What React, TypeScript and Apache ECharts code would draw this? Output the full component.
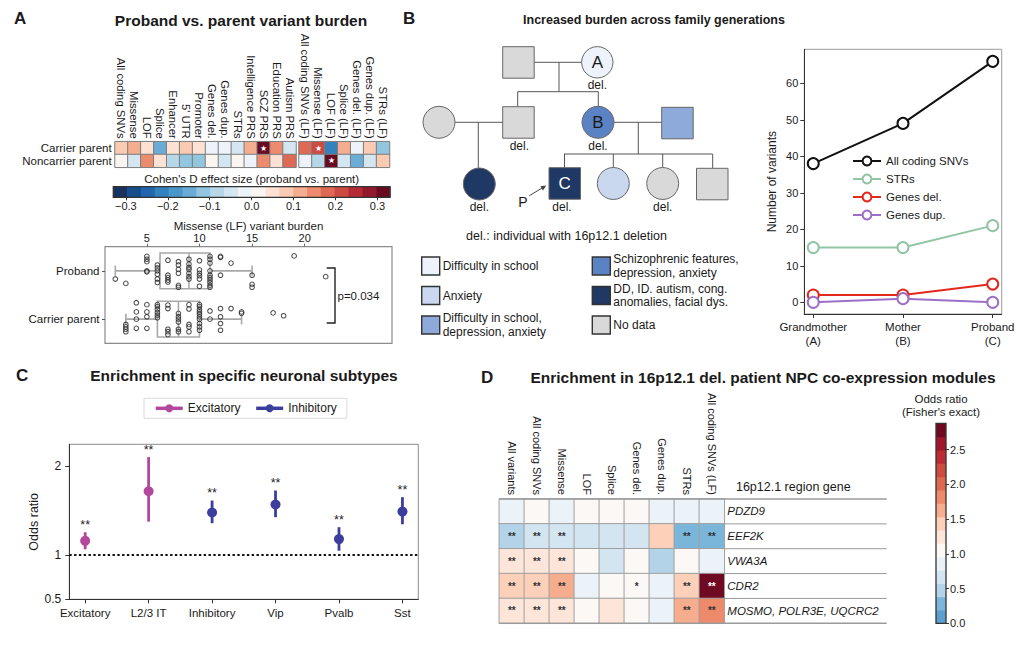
import React, { useEffect, useRef } from 'react';
import * as echarts from 'echarts';

const FONT = '"Liberation Sans", Arial, Helvetica, sans-serif';
const INK = '#1a1a1a';

// ---------------- Panel A: heatmap (Cohen's D) ----------------
const colsA = ['All coding SNVs', 'Missense', 'LOF', 'Splice', 'Enhancer', "5' UTR", 'Promoter', 'Genes del.', 'Genes dup.', 'STRs', 'Intelligence PRS', 'SCZ PRS', 'Education PRS', 'Autism PRS'];
const colsALF = ['All coding SNVs (LF)', 'Missense (LF)', 'LOF (LF)', 'Splice (LF)', 'Genes del. (LF)', 'Genes dup. (LF)', 'STRs (LF)'];
const rowsA = ['Noncarrier parent', 'Carrier parent'];
const carrierA = [0.08, 0.12, 0.05, -0.14, 0.05, 0.08, 0.05, -0.01, -0.02, -0.04, 0.12, 0.32, 0.15, -0.05];
const noncarrierA = [0.01, -0.05, 0.15, 0.05, -0.08, -0.11, -0.1, 0.01, -0.04, 0.02, -0.01, 0.14, 0.05, 0.18];
const carrierALF = [0.18, 0.21, -0.2, 0.12, -0.01, 0.08, -0.1];
const noncarrierALF = [-0.01, -0.07, 0.32, -0.05, -0.14, -0.04, 0.08];
const starsCarrierA = [11];
const starsNoncarrierA: number[] = [];
const starsCarrierALF = [1];
const starsNoncarrierALF = [2];
const cohenTicks = [-0.3, -0.2, -0.1, 0, 0.1, 0.2, 0.3];
const cohenMin = -0.33;
const cohenStep = 0.033;
const cohenColors = ['#17325f', '#174f8c', '#2166ac', '#3581bd', '#4a98c9', '#6aacd5', '#92c5de', '#b6d7e8', '#d4e6f1', '#edf3f8', '#fbf5f1', '#fde2d4', '#fbcab2', '#f5ad8f', '#ec8b6d', '#de6a56', '#cc4a42', '#b52a35', '#921a2c', '#6a0a20'];

// ---------------- Panel A: box plot ----------------
const boxRows = ['Carrier parent', 'Proband'];
const boxTicks = [5, 10, 15, 20];
// [row centre, min, q1, median, q3, max]
const boxStats = [
  [0.5, 3, 6, 8, 10, 14],
  [1.5, 2, 6.25, 9, 11, 15],
];
const probandPoints = [
  [2, 1.33], [3, 1.24],
  [5, 1.8], [5, 1.74], [5, 1.69], [5, 1.5], [5, 1.48],
  [6, 1.62], [6, 1.56], [6, 1.5], [6, 1.43], [6, 1.33], [6, 1.26],
  [7, 1.72], [7, 1.41], [7, 1.36], [7, 1.31], [7, 1.27],
  [8, 1.69], [8, 1.62], [8, 1.53], [8, 1.45], [8, 1.2], [8, 1.16],
  [9, 1.74], [9, 1.64], [9, 1.57], [9, 1.53], [9, 1.45], [9, 1.38], [9, 1.33],
  [10, 1.71], [10, 1.52], [10, 1.45], [10, 1.4], [10, 1.33], [10, 1.18],
  [11, 1.8], [11, 1.74], [11, 1.66], [11, 1.5], [11, 1.41], [11, 1.36], [11, 1.31], [11, 1.26], [11, 1.2], [11, 1.16],
  [12, 1.8], [12, 1.78], [12, 1.41], [13, 1.66],
  [15, 1.41], [15, 1.22], [15, 1.16], [19, 1.81], [22, 1.38],
];
const carrierPoints = [
  [3, 0.39], [3, 0.34], [3, 0.29], [3, 0.24],
  [4, 0.84], [4, 0.65], [4, 0.5], [4, 0.31],
  [5, 0.8], [5, 0.65], [5, 0.55], [5, 0.31],
  [6, 0.8], [6, 0.76], [6, 0.7], [6, 0.64], [6, 0.58], [6, 0.53],
  [7, 0.79], [7, 0.72], [7, 0.29], [7, 0.24], [7, 0.18],
  [8, 0.62], [8, 0.55], [8, 0.5], [8, 0.44], [8, 0.29], [8, 0.24],
  [9, 0.8], [9, 0.71], [9, 0.39], [9, 0.34], [9, 0.24],
  [10, 0.8], [10, 0.76], [10, 0.7], [10, 0.65], [10, 0.6], [10, 0.55], [10, 0.5], [10, 0.41], [10, 0.34], [10, 0.27],
  [11, 0.67], [11, 0.5],
  [12, 0.72], [12, 0.55], [12, 0.41], [12, 0.27],
  [13, 0.72], [14, 0.65], [14, 0.62], [17, 0.63], [18, 0.57],
];

// ---------------- Panel B: variants per generation ----------------
const generations = ['Grandmother\n(A)', 'Mother\n(B)', 'Proband\n(C)'];
const allCodingSNVs = [38, 49, 66];
const strs = [15, 15, 21];
const genesDel = [2, 2, 5];
const genesDup = [0, 1, 0];
const variantTicks = [0, 10, 20, 30, 40, 50, 60];

// ---------------- Panel C: neuronal subtypes ----------------
const subtypes = ['Excitatory', 'L2/3 IT', 'Inhibitory', 'Vip', 'Pvalb', 'Sst'];
const subtypeGroup = ['Excitatory', 'Excitatory', 'Inhibitory', 'Inhibitory', 'Inhibitory', 'Inhibitory'];
const oddsRatio = [1.16, 1.72, 1.48, 1.57, 1.18, 1.49];
const ciLow = [1.065, 1.377, 1.359, 1.427, 1.049, 1.347];
const ciHigh = [1.257, 2.106, 1.615, 1.728, 1.314, 1.653];
const signif = ['**', '**', '**', '**', '**', '**'];
const oddsTicks = [0.5, 1, 2];

// ---------------- Panel D: co-expression modules ----------------
const colsD = ['All variants', 'All coding SNVs', 'Missense', 'LOF', 'Splice', 'Genes del.', 'Genes dup.', 'STRs', 'All coding SNVs (LF)'];
const genesD = ['PDZD9', 'EEF2K', 'VWA3A', 'CDR2', 'MOSMO, POLR3E, UQCRC2'];
const oddsD = [
  [0.9, 1.05, 0.9, 1.1, 1.1, 1.05, 0.9, 0.9, 0.9],
  [0.5, 0.6, 0.6, 0.7, 0.7, 0.7, 1.45, 0.3, 0.3],
  [1.25, 1.25, 1.25, 1.05, 0.6, 1.05, 0.5, 1.05, 0.9],
  [1.45, 1.45, 1.65, 0.9, 1.05, 1.05, 0.9, 1.45, 2.8],
  [1.25, 1.25, 1.25, 1.05, 1.25, 1.05, 0.9, 1.65, 1.85],
];
const starsD = [
  ['', '', '', '', '', '', '', '', ''],
  ['**', '**', '**', '', '', '', '', '**', '**'],
  ['**', '**', '**', '', '', '', '', '', ''],
  ['**', '**', '**', '', '', '*', '', '**', '**'],
  ['**', '**', '**', '', '', '', '', '**', '**'],
];
const oddsDTicks = [0, 0.5, 1, 1.5, 2, 2.5];
const oddsDMax = 2.88;
const oddsDStep = 0.192;
const oddsDColors = ['#5a9fcf', '#7ab6da', '#b3d4e8', '#d3e5f0', '#ebf2f8', '#fbf8f5', '#fde6d9', '#fcd0b9', '#f6ad8e', '#ec8a6b', '#df6851', '#cf4a3f', '#bd2a31', '#a1162b', '#6f0a22'];

// ---------------- Pedigree colours ----------------
const PED = {
  school: '#eef2fa',
  anxiety: '#c9d7ef',
  schoolDep: '#8eaadb',
  schizo: '#5b82c3',
  dd: '#1f3864',
  none: '#d9d9d9',
};
const pedLegend = [
  { label: 'Difficulty in school', color: PED.school, col: 0, row: 0 },
  { label: 'Anxiety', color: PED.anxiety, col: 0, row: 1 },
  { label: 'Difficulty in school,\ndepression, anxiety', color: PED.schoolDep, col: 0, row: 2 },
  { label: 'Schizophrenic features,\ndepression, anxiety', color: PED.schizo, col: 1, row: 0 },
  { label: 'DD, ID. autism, cong.\nanomalies, facial dys.', color: PED.dd, col: 1, row: 1 },
  { label: 'No data', color: PED.none, col: 1, row: 2 },
];

// ---------------- helpers ----------------
const T = (x: number, y: number, text: string, o: any = {}) => ({
  type: 'text',
  x,
  y,
  z: 100,
  silent: true,
  style: {
    text,
    fill: o.fill || INK,
    fontSize: o.size || 12,
    fontFamily: FONT,
    fontWeight: o.weight || 'normal',
    fontStyle: o.italic ? 'italic' : 'normal',
    align: o.align || 'left',
    verticalAlign: o.va || 'middle',
    textAlign: o.align || 'left',
    textVerticalAlign: o.va || 'middle',
    lineHeight: o.lh || undefined,
  },
});
const L = (x1: number, y1: number, x2: number, y2: number, color = '#555', w = 1) => ({
  type: 'line',
  z: 90,
  silent: true,
  shape: { x1, y1, x2, y2 },
  style: { stroke: color, lineWidth: w },
});
const SQ = (x: number, y: number, s: number, fill: string, stroke = '#666', w = 1) => ({
  type: 'rect',
  z: 95,
  silent: true,
  shape: { x, y, width: s, height: s },
  style: { fill, stroke, lineWidth: w },
});
const CI = (cx: number, cy: number, r: number, fill: string) => ({
  type: 'circle',
  z: 95,
  silent: true,
  shape: { cx, cy, r },
  style: { fill, stroke: '#666', lineWidth: 1 },
});

const fmtMinus = (v: number) => v.toFixed(1).replace('-', '\u2212');

function heatAData(carrier: number[], noncarrier: number[], sc: number[], sn: number[]) {
  const out: any[] = [];
  carrier.forEach((v, i) => out.push(sc.includes(i) ? { value: [i, 1, v], label: { show: true } } : [i, 1, v]));
  noncarrier.forEach((v, i) => out.push(sn.includes(i) ? { value: [i, 0, v], label: { show: true } } : [i, 0, v]));
  return out;
}

function buildOption(): any {
  const cohenBins = cohenColors.map((_, i) => [cohenMin + i * cohenStep, cohenMin + (i + 1) * cohenStep, i]);
  const cohenPieces = cohenBins.map((b) => ({ gte: b[0] - 1e-9, lt: b[1] + 1e-9, color: cohenColors[b[2]] }));
  const oddsBins = oddsDColors.map((_, i) => [i * oddsDStep, (i + 1) * oddsDStep, i]);
  const oddsPieces = oddsBins.map((b) => ({ gte: b[0], lt: b[1] + 1e-9, color: oddsDColors[b[2]] }));

  const heatD: any[] = [];
  oddsD.forEach((row, r) =>
    row.forEach((v, c) => {
      const s = starsD[r][c];
      heatD.push(
        s
          ? { value: [c, r, v], label: { show: true, formatter: s, color: v > 2.4 ? '#ffffff' : '#333333' } }
          : [c, r, v]
      );
    })
  );

  const axisText = { color: INK, fontFamily: FONT };

  const rectRender = (xFirst: boolean, colors: string[]) => (params: any, api: any) => {
    const lo = api.value(0);
    const hi = api.value(1);
    const ci = api.value(2);
    let p0, p1;
    if (xFirst) {
      p0 = api.coord([lo, 1]);
      p1 = api.coord([hi, 0]);
    } else {
      p0 = api.coord([0, hi]);
      p1 = api.coord([1, lo]);
    }
    return {
      type: 'rect',
      shape: { x: p0[0], y: p0[1], width: p1[0] - p0[0] + (xFirst ? 0.6 : 0), height: p1[1] - p0[1] + (xFirst ? 0 : 0.6) },
      style: { fill: colors[ci], stroke: null },
    };
  };
  const outlineRender = (params: any, api: any) => {
    const p0 = api.coord([api.value(0), api.value(3)]);
    const p1 = api.coord([api.value(1), api.value(2)]);
    return {
      type: 'rect',
      shape: { x: p0[0], y: p0[1], width: p1[0] - p0[0], height: p1[1] - p0[1] },
      style: { fill: 'none', stroke: '#333', lineWidth: 1.3 },
    };
  };

  const boxRender = (params: any, api: any) => {
    const y = api.value(0);
    const mn = api.value(1);
    const q1 = api.value(2);
    const md = api.value(3);
    const q3 = api.value(4);
    const mx = api.value(5);
    const h = 0.37;
    const cap = 0.11;
    const c = (a: number, b: number) => api.coord([a, b]);
    const st = { stroke: '#a8a8a8', lineWidth: 1.6, fill: 'none' };
    const b0 = c(q1, y + h);
    const b1 = c(q3, y - h);
    const ln = (p: number[], q: number[]) => ({ type: 'line', shape: { x1: p[0], y1: p[1], x2: q[0], y2: q[1] }, style: st });
    return {
      type: 'group',
      children: [
        { type: 'rect', shape: { x: b0[0], y: b0[1], width: b1[0] - b0[0], height: b1[1] - b0[1] }, style: st },
        ln(c(md, y + h), c(md, y - h)),
        ln(c(mn, y), c(q1, y)),
        ln(c(q3, y), c(mx, y)),
        ln(c(mn, y + cap), c(mn, y - cap)),
        ln(c(mx, y + cap), c(mx, y - cap)),
      ],
    };
  };

  const ciRender = (color: string) => (params: any, api: any) => {
    const x = api.value(0);
    const lo = api.value(1);
    const hi = api.value(2);
    const idx = api.value(3);
    const p0 = api.coord([x, lo]);
    const p1 = api.coord([x, hi]);
    return {
      type: 'group',
      children: [
        { type: 'line', shape: { x1: p0[0], y1: p0[1], x2: p1[0], y2: p1[1] }, style: { stroke: color, lineWidth: 2.8 } },
        {
          type: 'text',
          x: p1[0],
          y: p1[1] - 1,
          style: { text: signif[idx], fill: '#222', fontSize: 12.5, fontFamily: FONT, align: 'center', verticalAlign: 'bottom', textAlign: 'center', textVerticalAlign: 'bottom' },
        },
      ],
    };
  };

  const ciData = (group: string) =>
    subtypes.map((_, i) => i).filter((i) => subtypeGroup[i] === group).map((i) => [i, ciLow[i], ciHigh[i], i]);
  const ptData = (group: string) =>
    subtypes.map((_, i) => i).filter((i) => subtypeGroup[i] === group).map((i) => [i, oddsRatio[i]]);

  const lineSeries = (name: string, vals: number[], color: string) => ({
    type: 'line',
    name,
    xAxisIndex: 4,
    yAxisIndex: 5,
    data: vals.map((v, i) => [i, v]),
    symbol: 'emptyCircle',
    symbolSize: 11,
    itemStyle: { color, borderWidth: 1.8 },
    lineStyle: { color, width: 2 },
    z: 5,
  });

  // ---------- graphics ----------
  const g: any[] = [];
  g.push(T(14, 18, 'A', { size: 17, weight: 'bold' }));
  g.push(T(241, 20, 'Proband vs. parent variant burden', { size: 15.5, weight: 'bold', align: 'center' }));
  g.push(T(403, 18, 'B', { size: 17, weight: 'bold' }));
  g.push(T(654, 20, 'Increased burden across family generations', { size: 12.5, weight: 'bold', align: 'center' }));
  g.push(T(16, 375, 'C', { size: 17, weight: 'bold' }));
  g.push(T(244, 375, 'Enrichment in specific neuronal subtypes', { size: 15.5, weight: 'bold', align: 'center' }));
  g.push(T(481, 377, 'D', { size: 17, weight: 'bold' }));
  g.push(T(763, 377, 'Enrichment in 16p12.1 del. patient NPC co-expression modules', { size: 15.5, weight: 'bold', align: 'center' }));

  g.push(T(251.7, 179.3, "Cohen's D effect size (proband vs. parent)", { size: 11.5, align: 'center' }));
  g.push({ type: 'polyline', z: 90, silent: true, shape: { points: [[326.7, 268], [335, 268], [335, 323], [326.7, 323]] }, style: { stroke: '#222', lineWidth: 1.4, fill: 'none' } });
  g.push(T(337.5, 295.5, 'p=0.034', { size: 11.5 }));

  // pedigree
  const S = 31.5;
  g.push(L(534.2, 62.3, 581.6, 62.3));
  g.push(L(559, 62.3, 559, 91.7));
  g.push(L(517.7, 91.7, 598.3, 91.7));
  g.push(L(517.7, 91.7, 517.7, 106.7));
  g.push(L(598.3, 91.7, 598.3, 106.3));
  g.push(L(455, 122.3, 502.7, 122.3));
  g.push(L(478.3, 122.3, 478.3, 168));
  g.push(L(614, 122.3, 661.7, 122.3));
  g.push(L(638.3, 122.3, 638.3, 154));
  g.push(L(564, 154, 712.7, 154));
  g.push(L(564.5, 154, 564.5, 167.7));
  g.push(L(613.3, 154, 613.3, 167.5));
  g.push(L(662.7, 154, 662.7, 167.5));
  g.push(L(712.7, 154, 712.7, 168.3));
  g.push(SQ(502.7, 46.7, S, PED.none));
  g.push(CI(597.3, 62.3, 15.7, PED.school));
  g.push(T(597.3, 62.8, 'A', { size: 17, align: 'center' }));
  g.push(T(597.3, 85, 'del.', { size: 12, align: 'center' }));
  g.push(CI(439, 122.3, 16, PED.none));
  g.push(SQ(502.7, 106.7, S, PED.none));
  g.push(T(519.3, 146, 'del.', { size: 12, align: 'center' }));
  g.push(CI(598, 122.3, 16, PED.schizo));
  g.push(T(598, 122.8, 'B', { size: 17, align: 'center' }));
  g.push(T(598, 146, 'del.', { size: 12, align: 'center' }));
  g.push(SQ(661.7, 107.3, S, PED.schoolDep));
  g.push(CI(479.3, 184, 16, PED.dd));
  g.push(T(479.3, 207, 'del.', { size: 12, align: 'center' }));
  g.push(SQ(549, 167.7, S, PED.dd));
  g.push(T(564.7, 183.7, 'C', { size: 17, align: 'center', fill: '#ffffff' }));
  g.push(T(562, 207, 'del.', { size: 12, align: 'center' }));
  g.push(L(529.3, 195.7, 542.5, 187.8, '#444', 1));
  g.push({ type: 'polygon', z: 95, silent: true, shape: { points: [[546.2, 185.6], [543.0, 190.4], [540.4, 186.2]] }, style: { fill: '#444' } });
  g.push(T(523, 201.5, 'P', { size: 14, align: 'center' }));
  g.push(CI(613.3, 183.5, 16, PED.anxiety));
  g.push(CI(662.7, 183.5, 16, PED.none));
  g.push(T(662.7, 207, 'del.', { size: 12, align: 'center' }));
  g.push(SQ(696.5, 168.3, S, PED.none));
  g.push(T(566.5, 235.7, 'del.: individual with 16p12.1 deletion', { size: 12.5, align: 'center' }));
  pedLegend.forEach((it) => {
    const x = it.col === 0 ? 421.7 : 592.3;
    const y = 257 + it.row * 29.5;
    g.push(SQ(x, y, 18, it.color, '#333', 1.4));
    g.push(T(x + 21, y + 9, it.label, { size: 12, lh: 13.5 }));
  });

  // panel D extras
  g.push(T(793.3, 486.7, '16p12.1 region gene', { size: 12.5, align: 'center' }));
  g.push(T(941, 398.5, 'Odds ratio', { size: 11.5, align: 'center' }));
  g.push(T(941, 411.5, "(Fisher's exact)", { size: 11.5, align: 'center' }));
  const rowH = 124.3 / genesD.length;
  for (let i = 0; i <= genesD.length; i++) {
    const y = 499 + i * rowH;
    g.push(L(i === 0 || i === genesD.length ? 499.3 : 724.3, y, 886.7, y, '#9a9a9a', i === 0 || i === genesD.length ? 1.6 : 1));
  }

  const valAxisLine = { show: true, onZero: false, lineStyle: { color: '#333', width: 1 } };

  return {
    animation: false,
    backgroundColor: '#ffffff',
    textStyle: { fontFamily: FONT, color: INK },
    grid: [
      { left: 115, top: 141.7, width: 181, height: 25.6 },
      { left: 299, top: 141.7, width: 90.5, height: 25.6 },
      { left: 113.3, top: 186.7, width: 276.7, height: 10.6 },
      { left: 105, top: 246.7, width: 287, height: 96.6, show: true, borderColor: '#8c8c8c', borderWidth: 1.2 },
      { left: 804.3, top: 49.3, width: 197.4, height: 264.7, show: true, borderColor: '#9a9a9a', borderWidth: 1 },
      { left: 69.3, top: 444.3, width: 349, height: 155, show: true, borderColor: '#8c8c8c', borderWidth: 1 },
      { left: 499.3, top: 499, width: 225, height: 124.3 },
      { left: 936, top: 423.3, width: 10, height: 200 },
    ],
    xAxis: [
      { gridIndex: 0, type: 'category', data: colsA, position: 'top', axisLine: { show: false }, axisTick: { show: false }, axisLabel: { ...axisText, rotate: 90, fontSize: 11.3, margin: 3, interval: 0 } },
      { gridIndex: 1, type: 'category', data: colsALF, position: 'top', axisLine: { show: false }, axisTick: { show: false }, axisLabel: { ...axisText, rotate: 90, fontSize: 11.3, margin: 3, interval: 0 } },
      {
        gridIndex: 2, type: 'value', min: cohenMin, max: -cohenMin, splitLine: { show: false }, axisLine: { show: false, onZero: false },
        axisTick: { show: true, customValues: cohenTicks, length: 3, lineStyle: { color: '#333' } },
        axisLabel: { ...axisText, customValues: cohenTicks, formatter: (v: number) => fmtMinus(v), fontSize: 11, margin: 3 },
      },
      {
        gridIndex: 3, type: 'value', min: 1.02, max: 28.3, position: 'top', splitLine: { show: false }, axisLine: { show: false, onZero: false },
        axisTick: { show: true, customValues: boxTicks, length: 3, lineStyle: { color: '#666' } },
        axisLabel: { ...axisText, customValues: boxTicks, fontSize: 11, margin: 3 },
        name: 'Missense (LF) variant burden', nameLocation: 'middle', nameGap: 14, nameTextStyle: { ...axisText, fontSize: 11.5 },
      },
      {
        gridIndex: 4, type: 'value', min: -0.1, max: 2.1, splitLine: { show: false },
        axisLine: valAxisLine,
        axisTick: { show: true, customValues: [0, 1, 2], length: 4, lineStyle: { color: '#333' } },
        axisLabel: { ...axisText, customValues: [0, 1, 2], formatter: (v: number) => generations[Math.round(v)], fontSize: 11.5, lineHeight: 14.3, margin: 6 },
      },
      {
        gridIndex: 5, type: 'value', min: -0.25, max: 5.25, splitLine: { show: false },
        axisLine: valAxisLine,
        axisTick: { show: true, customValues: [0, 1, 2, 3, 4, 5], length: 4, lineStyle: { color: '#333' } },
        axisLabel: { ...axisText, customValues: [0, 1, 2, 3, 4, 5], formatter: (v: number) => subtypes[Math.round(v)], fontSize: 11.5, margin: 8 },
      },
      { gridIndex: 6, type: 'category', data: colsD, position: 'top', axisLine: { show: false }, axisTick: { show: false }, axisLabel: { ...axisText, rotate: 90, fontSize: 11, margin: 4, interval: 0 } },
      { gridIndex: 7, type: 'value', min: 0, max: 1, show: false },
    ],
    yAxis: [
      { gridIndex: 0, type: 'category', data: rowsA, axisLine: { show: false }, axisTick: { show: false }, axisLabel: { ...axisText, fontSize: 11.5, margin: 3.3, interval: 0 } },
      { gridIndex: 1, type: 'category', data: rowsA, show: false },
      { gridIndex: 2, type: 'value', min: 0, max: 1, show: false },
      {
        gridIndex: 3, type: 'category', data: boxRows, axisLine: { show: false },
        axisTick: { show: true, alignWithLabel: true, length: 3, lineStyle: { color: '#555' } },
        axisLabel: { ...axisText, fontSize: 11.5, margin: 5.5, interval: 0 },
      },
      { gridIndex: 3, type: 'value', min: 0, max: 2, show: false },
      {
        gridIndex: 4, type: 'value', min: -3.2, max: 69.3, splitLine: { show: false },
        axisLine: valAxisLine,
        axisTick: { show: true, customValues: variantTicks, length: 4, lineStyle: { color: '#333' } },
        axisLabel: { ...axisText, customValues: variantTicks, fontSize: 11, margin: 6 },
        name: 'Number of variants', nameLocation: 'middle', nameGap: 26, nameTextStyle: { ...axisText, fontSize: 12 },
      },
      {
        gridIndex: 5, type: 'value', min: 0.5, max: 2.25, splitLine: { show: false },
        axisLine: valAxisLine,
        axisTick: { show: true, customValues: oddsTicks, length: 4, lineStyle: { color: '#333' } },
        axisLabel: { ...axisText, customValues: oddsTicks, formatter: (v: number) => String(v), fontSize: 12, margin: 8 },
        name: 'Odds ratio', nameLocation: 'middle', nameGap: 26, nameTextStyle: { ...axisText, fontSize: 12.5 },
      },
      {
        gridIndex: 6, type: 'category', data: genesD, inverse: true, position: 'right', axisLine: { show: false }, axisTick: { show: false },
        axisLabel: { ...axisText, fontSize: 11.5, fontStyle: 'italic', margin: 3, interval: 0 },
      },
      {
        gridIndex: 7, type: 'value', min: 0, max: oddsDMax, position: 'right', splitLine: { show: false }, axisLine: { show: false, onZero: false },
        axisTick: { show: true, customValues: oddsDTicks, length: 3, lineStyle: { color: '#333' } },
        axisLabel: { ...axisText, customValues: oddsDTicks, formatter: (v: number) => v.toFixed(1), fontSize: 11, margin: 4 },
      },
    ],
    visualMap: [
      { type: 'piecewise', show: false, seriesIndex: [0, 1], dimension: 2, pieces: cohenPieces },
      { type: 'piecewise', show: false, seriesIndex: [15], dimension: 2, pieces: oddsPieces },
    ],
    legend: [
      {
        data: ['All coding SNVs', 'STRs', 'Genes del.', 'Genes dup.'], orient: 'vertical', left: 847, top: 150,
        itemWidth: 28, itemHeight: 11, itemGap: 6, selectedMode: false,
        textStyle: { ...axisText, fontSize: 11.5 },
      },
      {
        data: ['Excitatory', 'Inhibitory'], left: 144, top: 398.3, padding: [4, 10], borderColor: '#d9d9d9', borderWidth: 1,
        itemWidth: 27, itemHeight: 10, itemGap: 14, selectedMode: false,
        textStyle: { ...axisText, fontSize: 12 }, lineStyle: { width: 3.5, opacity: 1 },
      },
    ],
    series: [
      {
        type: 'heatmap', xAxisIndex: 0, yAxisIndex: 0, data: heatAData(carrierA, noncarrierA, starsCarrierA, starsNoncarrierA),
        itemStyle: { borderColor: '#7d7d7d', borderWidth: 1 }, label: { show: false, formatter: '\u2605', color: '#ffffff', fontSize: 8 },
      },
      {
        type: 'heatmap', xAxisIndex: 1, yAxisIndex: 1, data: heatAData(carrierALF, noncarrierALF, starsCarrierALF, starsNoncarrierALF),
        itemStyle: { borderColor: '#7d7d7d', borderWidth: 1 }, label: { show: false, formatter: '\u2605', color: '#ffffff', fontSize: 8 },
      },
      { type: 'custom', xAxisIndex: 2, yAxisIndex: 2, data: cohenBins, renderItem: rectRender(true, cohenColors), silent: true },
      { type: 'custom', xAxisIndex: 2, yAxisIndex: 2, data: [[cohenMin, -cohenMin, 0, 1]], renderItem: outlineRender, silent: true, z: 5 },
      { type: 'custom', xAxisIndex: 3, yAxisIndex: 4, data: boxStats, renderItem: boxRender, silent: true, z: 2 },
      { type: 'scatter', xAxisIndex: 3, yAxisIndex: 4, data: probandPoints, symbol: 'circle', symbolSize: 4.6, itemStyle: { color: 'rgba(255,255,255,0.15)', borderColor: '#222222', borderWidth: 1.05 }, z: 4 },
      { type: 'scatter', xAxisIndex: 3, yAxisIndex: 4, data: carrierPoints, symbol: 'circle', symbolSize: 4.6, itemStyle: { color: 'rgba(255,255,255,0.15)', borderColor: '#222222', borderWidth: 1.05 }, z: 4 },
      lineSeries('All coding SNVs', allCodingSNVs, '#111111'),
      lineSeries('STRs', strs, '#92c4a5'),
      lineSeries('Genes del.', genesDel, '#e3281d'),
      lineSeries('Genes dup.', genesDup, '#9c70c9'),
      { type: 'custom', name: 'Excitatory CI', xAxisIndex: 5, yAxisIndex: 6, data: ciData('Excitatory'), renderItem: ciRender('#b3479e'), silent: true, z: 3 },
      { type: 'custom', name: 'Inhibitory CI', xAxisIndex: 5, yAxisIndex: 6, data: ciData('Inhibitory'), renderItem: ciRender('#3c3e9e'), silent: true, z: 3 },
      {
        type: 'line', name: 'Excitatory', xAxisIndex: 5, yAxisIndex: 6, data: ptData('Excitatory'), symbol: 'circle', symbolSize: 10,
        itemStyle: { color: '#b3479e' }, lineStyle: { color: '#b3479e', opacity: 0, width: 3.5 }, z: 4,
        markLine: {
          silent: true, symbol: ['none', 'none'], label: { show: false }, data: [{ yAxis: 1 }],
          lineStyle: { color: '#111111', width: 2.2, type: [2.4, 2.4] },
        },
      },
      {
        type: 'line', name: 'Inhibitory', xAxisIndex: 5, yAxisIndex: 6, data: ptData('Inhibitory'), symbol: 'circle', symbolSize: 10,
        itemStyle: { color: '#3c3e9e' }, lineStyle: { color: '#3c3e9e', opacity: 0, width: 3.5 }, z: 4,
      },
      {
        type: 'heatmap', xAxisIndex: 6, yAxisIndex: 7, data: heatD,
        itemStyle: { borderColor: '#a0a0a0', borderWidth: 1 },
        label: { show: false, fontSize: 10, fontWeight: 'bold', color: '#333333' },
      },
      { type: 'custom', xAxisIndex: 7, yAxisIndex: 8, data: oddsBins, renderItem: rectRender(false, oddsDColors), silent: true },
      { type: 'custom', xAxisIndex: 7, yAxisIndex: 8, data: [[0, 1, 0, oddsDMax]], renderItem: outlineRender, silent: true, z: 5 },
    ],
    graphic: { elements: g },
  };
}

export default function App() {
  const ref = useRef<HTMLDivElement>(null);
  useEffect(() => {
    if (!ref.current) return;
    const chart = echarts.init(ref.current, undefined, { renderer: 'svg', width: 1024, height: 649 });
    chart.setOption(buildOption());
    return () => chart.dispose();
  }, []);
  return (
    <div
      ref={ref}
      style={{ position: 'absolute', left: 0, top: 0, width: 1024, height: 649, background: '#ffffff' }}
    />
  );
}
